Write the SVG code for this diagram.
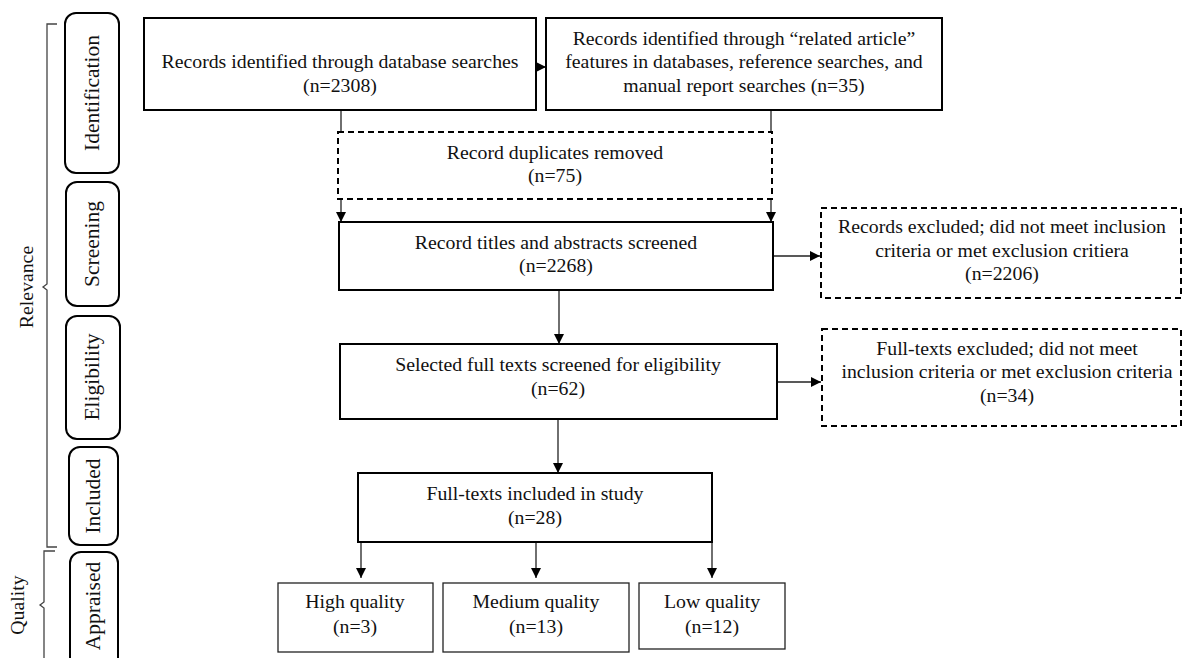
<svg xmlns="http://www.w3.org/2000/svg" width="1183" height="658" viewBox="0 0 1183 658">
<defs>
<style>
.box{fill:#fff;stroke:#000;stroke-width:2}
.dbox{fill:#fff;stroke:#000;stroke-width:2;stroke-dasharray:6 4}
.thin{fill:#fff;stroke:#222;stroke-width:1.3}
.stage{fill:#fff;stroke:#000;stroke-width:2}
.t{font-family:"Liberation Serif","Times New Roman",serif;font-size:19.8px;fill:#111;text-anchor:middle}
.s{font-family:"Liberation Serif","Times New Roman",serif;font-size:21.5px;fill:#111;text-anchor:middle}
.c{fill:none;stroke:#222;stroke-width:1.3}
.br{fill:none;stroke:#444;stroke-width:1.3}
</style>
<marker id="ah" viewBox="0 0 10 10" refX="10" refY="5" markerWidth="10" markerHeight="10" markerUnits="userSpaceOnUse" orient="auto">
<path d="M0,0 L10,5 L0,10 z" fill="#000"/>
</marker>
</defs>
<rect width="1183" height="658" fill="#fff"/>

<g id="connectors">
<line class="c" x1="536" y1="67" x2="546" y2="67" marker-end="url(#ah)"/>
<line class="c" x1="341" y1="110" x2="341" y2="222" marker-end="url(#ah)"/>
<line class="c" x1="771" y1="110" x2="771" y2="222" marker-end="url(#ah)"/>
<line class="c" x1="773" y1="256" x2="820" y2="256" marker-end="url(#ah)"/>
<line class="c" x1="559" y1="290" x2="559" y2="344" marker-end="url(#ah)"/>
<line class="c" x1="777" y1="382" x2="821" y2="382" marker-end="url(#ah)"/>
<line class="c" x1="558" y1="419" x2="558" y2="473" marker-end="url(#ah)"/>
<line class="c" x1="361" y1="542" x2="361" y2="578" marker-end="url(#ah)"/>
<line class="c" x1="536" y1="542" x2="536" y2="578" marker-end="url(#ah)"/>
<line class="c" x1="712" y1="542" x2="712" y2="578" marker-end="url(#ah)"/>
</g>

<g id="brace-relevance">
<path class="br" d="M57,24 L47,24 L47,284 L43,287 L47,290 L47,547 L57,547"/>
<text class="t" transform="translate(33,287) rotate(-90)">Relevance</text>
</g>
<g id="brace-quality">
<path class="br" d="M55,551 L44,551 L44,602 L40,605 L44,608 L44,670"/>
<text class="t" transform="translate(24,605) rotate(-90)">Quality</text>
</g>

<g id="stage-identification">
<rect class="stage" x="65" y="13" width="54" height="160" rx="11"/>
<text class="s" transform="translate(99,93) rotate(-90)">Identification</text>
</g>
<g id="stage-screening">
<rect class="stage" x="66" y="182" width="53" height="124" rx="11"/>
<text class="s" transform="translate(99,244) rotate(-90)">Screening</text>
</g>
<g id="stage-eligibility">
<rect class="stage" x="66" y="316" width="54" height="123" rx="11"/>
<text class="s" transform="translate(99,377) rotate(-90)">Eligibility</text>
</g>
<g id="stage-included">
<rect class="stage" x="69" y="447" width="49" height="98" rx="11"/>
<text class="s" transform="translate(100,496) rotate(-90)">Included</text>
</g>
<g id="stage-appraised">
<rect class="stage" x="70" y="552" width="48" height="130" rx="11"/>
<text class="s" transform="translate(100,606) rotate(-90)">Appraised</text>
</g>

<g id="node-db">
<rect class="box" x="144" y="18" width="392" height="92"/>
<text class="t" x="340" y="68">Records identified through database searches</text>
<text class="t" x="340" y="92">(n=2308)</text>
</g>
<g id="node-related">
<rect class="box" x="546" y="18" width="396" height="92"/>
<text class="t" x="744" y="45">Records identified through “related article”</text>
<text class="t" x="744" y="68">features in databases, reference searches, and</text>
<text class="t" x="744" y="92">manual report searches (n=35)</text>
</g>
<g id="node-duplicates">
<rect class="dbox" x="338" y="132" width="434" height="67"/>
<text class="t" x="555" y="159">Record duplicates removed</text>
<text class="t" x="555" y="182">(n=75)</text>
</g>
<g id="node-titles">
<rect class="box" x="339" y="222" width="434" height="68"/>
<text class="t" x="556" y="249">Record titles and abstracts screened</text>
<text class="t" x="556" y="272">(n=2268)</text>
</g>
<g id="node-excluded1">
<rect class="dbox" x="821" y="208" width="360" height="90"/>
<text class="t" x="1002" y="233">Records excluded; did not meet inclusion</text>
<text class="t" x="1002" y="257">criteria or met exclusion critiera</text>
<text class="t" x="1002" y="280">(n=2206)</text>
</g>
<g id="node-selected">
<rect class="box" x="340" y="344" width="437" height="75"/>
<text class="t" x="558" y="371">Selected full texts screened for eligibility</text>
<text class="t" x="558" y="395">(n=62)</text>
</g>
<g id="node-excluded2">
<rect class="dbox" x="822" y="329" width="359" height="97"/>
<text class="t" x="1007" y="355">Full-texts excluded; did not meet</text>
<text class="t" x="1007" y="378">inclusion criteria or met exclusion criteria</text>
<text class="t" x="1007" y="402">(n=34)</text>
</g>
<g id="node-included">
<rect class="box" x="358" y="473" width="354" height="69"/>
<text class="t" x="535" y="500">Full-texts included in study</text>
<text class="t" x="535" y="524">(n=28)</text>
</g>
<g id="node-high">
<rect class="thin" x="278" y="583" width="155" height="69"/>
<text class="t" x="355" y="608">High quality</text>
<text class="t" x="355" y="633">(n=3)</text>
</g>
<g id="node-medium">
<rect class="thin" x="443" y="583" width="186" height="69"/>
<text class="t" x="536" y="608">Medium quality</text>
<text class="t" x="536" y="633">(n=13)</text>
</g>
<g id="node-low">
<rect class="thin" x="639" y="583" width="146" height="66"/>
<text class="t" x="712" y="608">Low quality</text>
<text class="t" x="712" y="633">(n=12)</text>
</g>
</svg>
